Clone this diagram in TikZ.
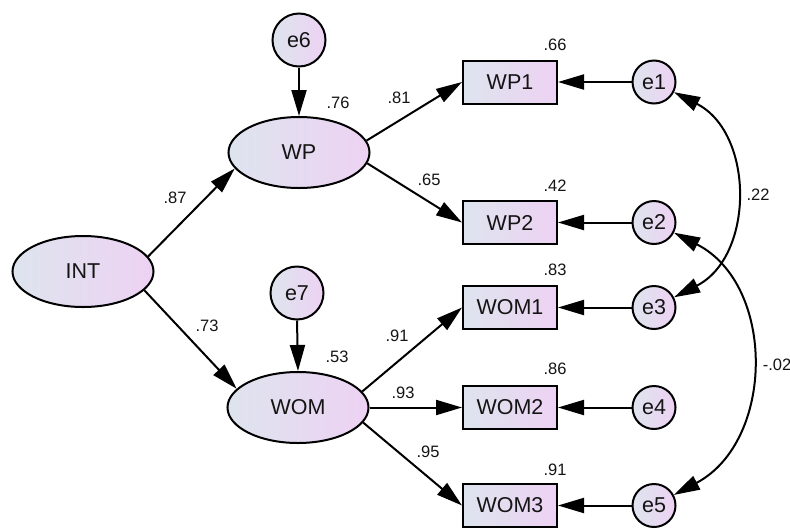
\documentclass[tikz,border=0pt]{standalone}
\usepackage{fontspec}
\setmainfont{Liberation Sans}
\usetikzlibrary{arrows.meta,shapes.geometric}

\definecolor{fillA}{RGB}{222,228,238}
\definecolor{fillB}{RGB}{237,210,243}
\definecolor{ink}{RGB}{20,20,20}

\begin{document}
\begin{tikzpicture}[x=1pt,y=1pt,
  base/.style={draw=black, line width=2pt, left color=fillA, right color=fillB,
    inner sep=0pt, text=ink, font=\fontsize{21.5}{21.5}\selectfont},
  latent/.style={base, ellipse, minimum width=141pt, minimum height=71pt},
  errvar/.style={base, circle, minimum size=43pt},
  bigerr/.style={base, circle, minimum size=53pt},
  observed/.style={base, rectangle, minimum width=94pt, minimum height=43pt},
  coef/.style={inner sep=0pt, text=ink, font=\fontsize{16.5}{16.5}\selectfont},
  tip/.tip={Triangle[length=26pt,width=15pt]},
  regpath/.style={line width=2pt, -tip},
  covpath/.style={line width=2pt, tip-tip}
]
\useasboundingbox (0,0) rectangle (790,-528);

% latent variables
\node[latent] (INT) at (83,-271.5) {INT};
\node[latent] (WP)  at (299,-152.5) {WP};
\node[latent] (WOM) at (298,-407.5) {WOM};

% disturbances of the endogenous latents
\node[bigerr] (e6) at (299,-40) {e6};
\node[bigerr] (e7) at (297,-293) {e7};

% indicators
\node[observed] (WP1)  at (510,-82)    {WP1};
\node[observed] (WP2)  at (510,-222.5) {WP2};
\node[observed] (WOM1) at (510,-307.5) {WOM1};
\node[observed] (WOM2) at (510,-407.5) {WOM2};
\node[observed] (WOM3) at (510,-505.5) {WOM3};

% measurement errors
\node[errvar] (e1) at (654,-82)    {e1};
\node[errvar] (e2) at (654,-222.5) {e2};
\node[errvar] (e3) at (654,-307.5) {e3};
\node[errvar] (e4) at (654,-407.5) {e4};
\node[errvar] (e5) at (654,-505.5) {e5};

% structural paths
\draw[regpath] (INT.13) -- (WP.194);
\draw[regpath] (INT.-17) -- (WOM.163);
\draw[regpath] (e6.south) -- (WP.north);
\draw[regpath] (e7.south) -- (WOM.north);

% loadings
\draw[regpath] (WP.10) -- (WP1.west);
\draw[regpath] (WP.-9) -- (WP2.west);
\draw[regpath] (WOM.14) -- (WOM1.west);
\draw[regpath] (WOM.east) -- (WOM2.west);
\draw[regpath] (WOM.-13) -- (WOM3.west);

% error terms
\draw[regpath] (e1.west) -- (WP1.east);
\draw[regpath] (e2.west) -- (WP2.east);
\draw[regpath] (e3.west) -- (WOM1.east);
\draw[regpath] (e4.west) -- (WOM2.east);
\draw[regpath] (e5.west) -- (WOM3.east);

% error covariances
\draw[covpath] (e1.-27) to[out=-27, in=27, looseness=1.13] (e3.27);
\draw[covpath] (e2.-27) to[out=-27, in=28, looseness=1.12] (e5.28);

% estimates
\node[coef] (c87) at (175,-198) {.87};
\node[coef] (c73) at (207,-326) {.73};
\node[coef] (c76) at (338,-103) {.76};
\node[coef] (c53) at (337,-357) {.53};
\node[coef] (c81) at (399,-98)  {.81};
\node[coef] (c65) at (429,-180) {.65};
\node[coef] (c91a) at (397,-336) {.91};
\node[coef] (c93) at (403,-393) {.93};
\node[coef] (c95) at (428,-452) {.95};
\node[coef] (c66) at (555,-45)  {.66};
\node[coef] (c42) at (555,-186) {.42};
\node[coef] (c83) at (555,-270) {.83};
\node[coef] (c86) at (555,-369) {.86};
\node[coef] (c91b) at (555,-470) {.91};
\node[coef] (c22) at (758,-195) {.22};
\node[coef] (c02) at (777,-365) {-.02};
\end{tikzpicture}
\end{document}
